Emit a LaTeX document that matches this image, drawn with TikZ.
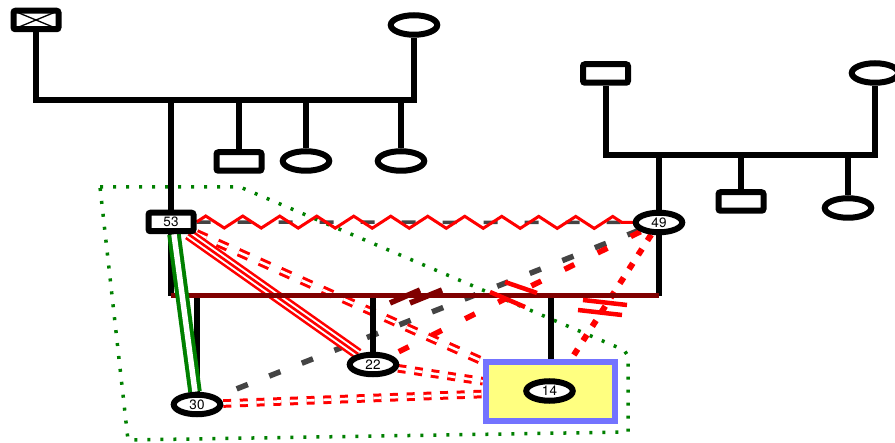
\documentclass[tikz,border=0pt]{standalone}
\usepackage{fontspec}
\setmainfont{TeX Gyre Heros}
\usetikzlibrary{shapes.geometric,decorations.pathmorphing,backgrounds}
\definecolor{gline}{HTML}{008000}
\definecolor{maroonc}{HTML}{800000}
\definecolor{dgray}{HTML}{444444}
\definecolor{ybox}{HTML}{FFFF80}
\definecolor{bbox}{HTML}{7373FF}
\newcommand{\numfont}{\fontsize{13.5}{14}\selectfont}
\begin{document}
\begin{tikzpicture}[x=1pt,y=-1pt,
  male/.style={rectangle, draw=black, fill=white, line width=6pt, rounded corners=2pt, minimum width=45pt, minimum height=18.5pt, inner sep=0pt, font=\numfont},
  female/.style={ellipse, draw=black, fill=white, line width=6pt, minimum width=46.5pt, minimum height=19.5pt, inner sep=0pt, font=\numfont},
  focusbox/.style={rectangle, draw=bbox, fill=ybox, line width=6pt, minimum width=129pt, minimum height=59pt, inner sep=0pt},
  famline/.style={line width=6pt, black, line join=miter},
  marline/.style={line width=5pt, maroonc},
  closeline/.style={draw=gline, line width=4pt, double=white, double distance=5.5pt},
  hostile/.style={draw=red, line width=2.6pt, double=white, double distance=6.5pt},
  ddash/.style={draw=red, line width=3pt, double=white, double distance=2.6pt},
  gdash/.style={draw=dgray, line width=5.5pt, dash pattern=on 12pt off 23pt},
  rdash/.style={draw=red, line width=5.5pt, dash pattern=on 11pt off 26pt},
  rdot/.style={draw=red, line width=6pt, dash pattern=on 7pt off 10pt},
  cutbar/.style={red, line width=4.5pt},
  divbar/.style={maroonc, line width=5.5pt},
  groupline/.style={draw=gline, line width=3.5pt, dash pattern=on 3pt off 10pt}
]
\useasboundingbox (0,0) rectangle (895,443);

% ---- nodes ----
\node[male] (m1) at (36,20) {};
\node[female] (f1) at (414,25) {};
\node[male] (c1) at (239,161.5) {};
\node[female] (c2) at (306,161) {};
\node[female] (c3) at (401,161) {};
\node[male] (n53) at (171,222) {53};

\node[male] (m2) at (605.5,73.5) {};
\node[female] (f2) at (875,73) {};
\node[male] (c4) at (741,201.5) {};
\node[female] (c5) at (848,208) {};
\node[female] (n49) at (659,222.5) {49};

\node[female] (n30) at (197,404.5) {30};
\node[female] (n22) at (373,364.5) {22};
\node[focusbox] (box14) at (550.5,391.5) {};
\node[female] (n14) at (549.5,391) {14};

\draw[line width=1.3pt] ([shift={(3,3)}]m1.north west) -- ([shift={(-3,-3)}]m1.south east);
\draw[line width=1.3pt] ([shift={(3,-3)}]m1.south west) -- ([shift={(-3,3)}]m1.north east);

\coordinate (u1) at (36,100);
\coordinate (u2) at (414,100);
\coordinate (u3) at (605.5,155);
\coordinate (u4) at (875,155);
\coordinate (jl) at (171,296);
\coordinate (jr) at (659,296);

\begin{scope}[on background layer]
  % group boundary
  \draw[groupline] (100,187) -- (240,187) -- (624,350) -- (628,356) -- (628,432) -- (128,440) -- cycle;

  % relationship lines
  \draw[gdash] (n49) -- (n30);
  \draw[rdash] (n49) -- (n22);
  \draw[rdot] (n49) -- (box14);
  \draw[ddash, dash pattern=on 11pt off 12pt] (n53) -- (box14);
  \draw[ddash, dash pattern=on 8pt off 8.7pt] (n30) -- (box14);
  \draw[ddash, dash pattern=on 8pt off 8.7pt] (n22) -- (box14);
  \draw[hostile] ([xshift=-8pt]n53.south east) -- (n22);
  \draw[red, line width=2.6pt] ([xshift=-8pt]n53.south east) -- (n22);

  % family lines
  \draw[famline] (m1) -- (u1) -- (u2) -- (f1);
  \draw[famline] (n53 |- u1) -- (n53);
  \draw[famline] (c1 |- u1) -- (c1);
  \draw[famline] (c2 |- u1) -- (c2);
  \draw[famline] (c3 |- u1) -- (c3);
  \draw[famline] (m2) -- (u3) -- (u4) -- (f2);
  \draw[famline] (n49 |- u3) -- (n49);
  \draw[famline] (c4 |- u3) -- (c4);
  \draw[famline] (c5 |- u3) -- (c5);

  \draw[famline] (n53) -- (jl);
  \draw[famline] (n49) -- (jr);
  \draw[famline] (n30 |- jl) -- (n30);
  \draw[famline] (n22 |- jl) -- (n22);
  \draw[famline] (box14 |- jl) -- (box14);
  \draw[marline] (jl) -- (jr);

  \draw[closeline] ([xshift=3pt]n53.south) -- ([xshift=-2pt]n30.north);

  % marriage 53 - 49
  \draw[dgray, line width=3.5pt, dash pattern=on 14pt off 27pt] (n53) -- (n49);
  \draw[red, line width=3pt, decorate, decoration={zigzag, segment length=37pt, amplitude=6pt}] (n53.east) -- (n49.west);

  % markers
  \draw[divbar] (390,303) -- (420,290);
  \draw[divbar] (410,303) -- (442,290);
  \draw[cutbar] (505,282) -- (537,293);
  \draw[cutbar] (490,292) -- (525,307);
  \draw[cutbar] (583,300) -- (627,305);
  \draw[cutbar] (578,310) -- (622,315);
\end{scope}
\end{tikzpicture}
\end{document}
